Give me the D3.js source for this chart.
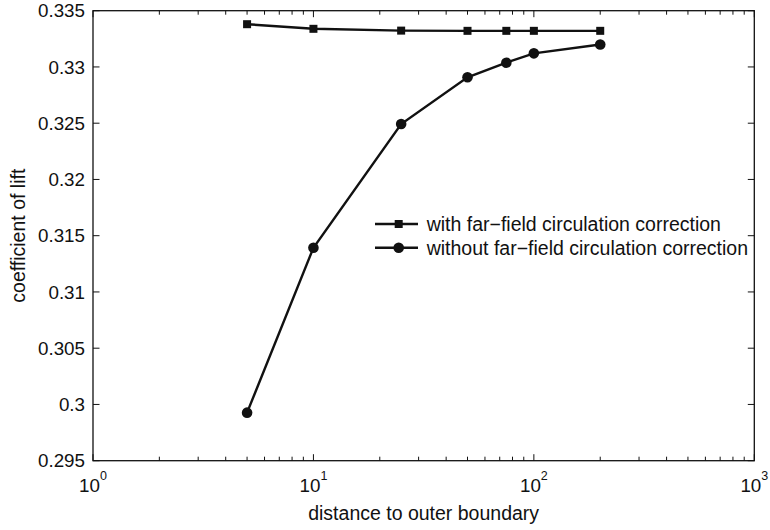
<!DOCTYPE html>
<html>
<head>
<meta charset="utf-8">
<script src="https://cdn.jsdelivr.net/npm/d3@7"></script>
<style>
  html, body { margin: 0; padding: 0; background: #fff; }
  svg { display: block; font-family: "Liberation Sans", Arial, Helvetica, sans-serif; }
</style>
</head>
<body>
<script>
// ---- data ----
const distances = [5, 10, 25, 50, 75, 100, 200];
const withCorrection = [0.3338, 0.33339, 0.33323, 0.33321, 0.33321, 0.33321, 0.33321];
const withoutCorrection = [0.29927, 0.31393, 0.32493, 0.32908, 0.33038, 0.33121, 0.3320];
const yTicks = [0.295, 0.3, 0.305, 0.31, 0.315, 0.32, 0.325, 0.33, 0.335];
const yTickLabels = ["0.295", "0.3", "0.305", "0.31", "0.315", "0.32", "0.325", "0.33", "0.335"];
const xTicks = [1, 10, 100, 1000];
const xExponents = ["0", "1", "2", "3"];
const seriesNames = ["with far\u2212field circulation correction", "without far\u2212field circulation correction"];
const xTitle = "distance to outer boundary";
const yTitle = "coefficient of lift";

// ---- layout ----
const W = 770, H = 530;
const L = 93, R = 754.3, T = 10.7, B = 460.7;
const ink = "#111";

const svg = d3.select("body").append("svg").attr("width", W).attr("height", H);

const x = d3.scaleLog().domain([1, 1000]).range([L, R]);
const y = d3.scaleLinear().domain([0.295, 0.335]).range([B, T]);

// minor log ticks
const minor = [];
for (let d = 1; d < 1000; d *= 10) for (let k = 2; k <= 9; k++) minor.push(d * k);

const g = svg.append("g");

// frame
g.append("rect").attr("x", L).attr("y", T).attr("width", R - L).attr("height", B - T)
  .attr("fill", "none").attr("stroke", ink).attr("stroke-width", 1.3);

// x ticks (bottom and top, inward)
const xt = g.append("g").attr("stroke", ink).attr("stroke-width", 1);
minor.forEach(v => {
  xt.append("line").attr("x1", x(v)).attr("x2", x(v)).attr("y1", B).attr("y2", B - 4);
  xt.append("line").attr("x1", x(v)).attr("x2", x(v)).attr("y1", T).attr("y2", T + 4);
});
xTicks.forEach(v => {
  xt.append("line").attr("x1", x(v)).attr("x2", x(v)).attr("y1", B).attr("y2", B - 6.5);
  xt.append("line").attr("x1", x(v)).attr("x2", x(v)).attr("y1", T).attr("y2", T + 6.5);
});
// y ticks (left and right, inward)
const yt = g.append("g").attr("stroke", ink).attr("stroke-width", 1);
yTicks.forEach(v => {
  yt.append("line").attr("x1", L).attr("x2", L + 6.5).attr("y1", y(v)).attr("y2", y(v));
  yt.append("line").attr("x1", R).attr("x2", R - 6.5).attr("y1", y(v)).attr("y2", y(v));
});

// y tick labels
g.append("g").selectAll("text").data(yTicks).join("text")
  .attr("x", L - 8).attr("y", d => y(d)).attr("dy", "0.36em")
  .attr("text-anchor", "end").attr("font-size", 18.8).attr("fill", ink)
  .text((d, i) => yTickLabels[i]);

// x tick labels 10^n
const xl = g.append("g").selectAll("text").data(xTicks).join("text")
  .attr("x", d => x(d)).attr("y", 491.7)
  .attr("text-anchor", "middle").attr("fill", ink).attr("font-size", 18.8);
xl.append("tspan").text("10");
xl.append("tspan").attr("dy", -12).attr("font-size", 12.5).text((d, i) => xExponents[i]);

// axis titles
g.append("text").attr("x", (L + R) / 2).attr("y", 520).attr("text-anchor", "middle")
  .attr("font-size", 19.5).attr("fill", ink).text(xTitle);
g.append("text").attr("transform", `translate(25,${(T + B) / 2}) rotate(-90)`)
  .attr("text-anchor", "middle").attr("font-size", 19.5).attr("fill", ink).text(yTitle);

// series
const line = d3.line().x(d => x(d[0])).y(d => y(d[1]));
const s1 = distances.map((d, i) => [d, withCorrection[i]]);
const s2 = distances.map((d, i) => [d, withoutCorrection[i]]);

g.append("path").datum(s1).attr("d", line).attr("fill", "none").attr("stroke", ink).attr("stroke-width", 2.4);
g.append("path").datum(s2).attr("d", line).attr("fill", "none").attr("stroke", ink).attr("stroke-width", 2.4);

const sq = 8;
g.append("g").selectAll("rect").data(s1).join("rect")
  .attr("x", d => x(d[0]) - sq / 2).attr("y", d => y(d[1]) - sq / 2)
  .attr("width", sq).attr("height", sq).attr("fill", ink);
g.append("g").selectAll("circle").data(s2).join("circle")
  .attr("cx", d => x(d[0])).attr("cy", d => y(d[1])).attr("r", 5.3).attr("fill", ink);

// legend
const legX1 = 375, legX2 = 418, legMid = 398.7, legText = 426.7;
const rows = [224, 247.7];
const lg = g.append("g");
rows.forEach((ry, i) => {
  lg.append("line").attr("x1", legX1).attr("x2", legX2).attr("y1", ry).attr("y2", ry)
    .attr("stroke", ink).attr("stroke-width", 2.4);
  if (i === 0) {
    lg.append("rect").attr("x", legMid - sq / 2).attr("y", ry - sq / 2).attr("width", sq).attr("height", sq).attr("fill", ink);
  } else {
    lg.append("circle").attr("cx", legMid).attr("cy", ry).attr("r", 5.3).attr("fill", ink);
  }
  lg.append("text").attr("x", legText).attr("y", ry).attr("dy", "0.36em")
    .attr("font-size", 19.5).attr("fill", ink).text(seriesNames[i]);
});
</script>
</body>
</html>
